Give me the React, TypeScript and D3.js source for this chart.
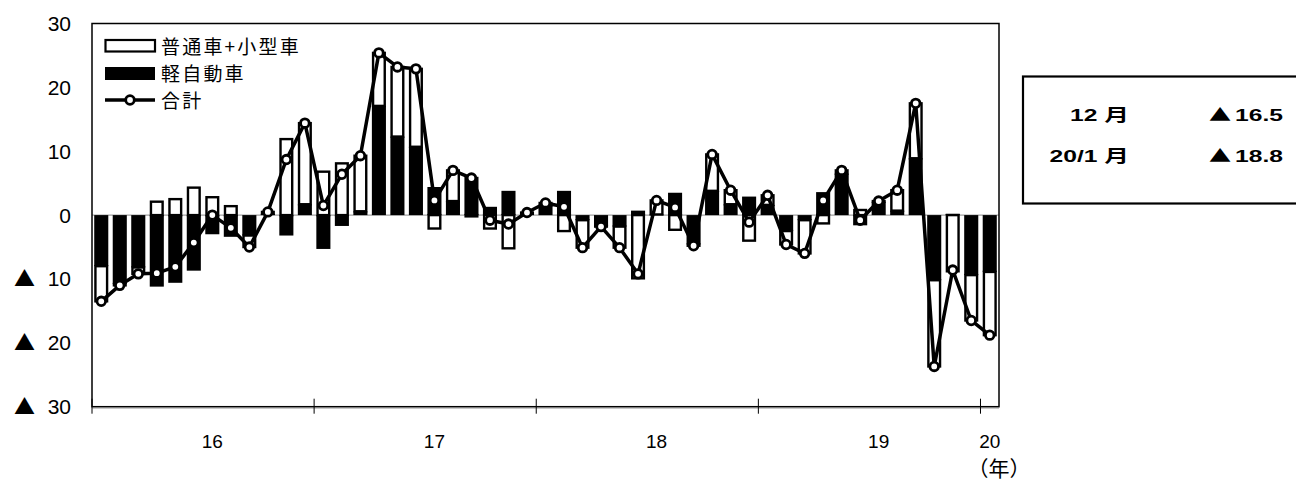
import React from 'react';
import * as d3 from 'd3';

// 2016/01 .. 2020/01, monthly
const months = [
  '16/01', '16/02', '16/03', '16/04', '16/05', '16/06', '16/07', '16/08', '16/09', '16/10', '16/11', '16/12',
  '17/01', '17/02', '17/03', '17/04', '17/05', '17/06', '17/07', '17/08', '17/09', '17/10', '17/11', '17/12',
  '18/01', '18/02', '18/03', '18/04', '18/05', '18/06', '18/07', '18/08', '18/09', '18/10', '18/11', '18/12',
  '19/01', '19/02', '19/03', '19/04', '19/05', '19/06', '19/07', '19/08', '19/09', '19/10', '19/11', '19/12',
  '20/01',
];

// 軽自動車 (black)
const kei = [
  -8.0, -10.8, -8.2, -11.2, -10.6, -8.7, -3.0, -3.4, -3.2, 0.2, -3.2, 1.7,
  -5.3, -1.7, 0.6, 17.1, 12.3, 10.7, 4.4, 2.2, 6.0, 1.3, 3.8, 0.3,
  1.5, 3.8, -0.8, -1.7, -1.8, 0.7, 0.1, 3.5, -4.6, 3.8, 1.7, 2.9,
  1.6, -2.5, -0.8, 3.6, 6.5, -1.6, 2.1, 0.7, 8.9, -10.2, 0.2, -9.4,
  -8.9,
];

// 普通車+小型車 (white)
const futsu = [
  -5.5, -0.2, -1.0, 2.1, 2.5, 4.3, 2.8, 1.4, -1.8, 0.3, 11.9, 12.7,
  6.8, 8.1, 8.7, 8.3, 10.9, 12.2, -2.1, 4.8, -0.2, -2.1, -5.2, 0.1,
  0.4, -2.5, -4.3, -0.1, -3.3, -9.9, 2.2, -2.3, -0.2, 5.7, 2.2, -4.0,
  1.5, -2.1, -5.2, -1.3, 0.5, 0.8, 0.1, 3.2, 8.6, -13.5, -8.8, -7.1,
  -9.9,
];

// 合計
const total = [
  -13.5, -11.0, -9.2, -9.1, -8.1, -4.3, 0.0, -2.0, -5.0, 0.5, 8.7, 14.4,
  1.5, 6.4, 9.3, 25.4, 23.2, 22.9, 2.3, 7.0, 5.8, -0.8, -1.4, 0.4,
  1.9, 1.3, -5.1, -1.8, -5.1, -9.2, 2.3, 1.2, -4.8, 9.5, 3.9, -1.1,
  3.1, -4.6, -6.0, 2.3, 7.0, -0.8, 2.2, 3.9, 17.5, -23.7, -8.6, -16.5,
  -18.8,
];

const yTicks = [30, 20, 10, 0, -10, -20, -30];
const yearTicks = ['16/01', '17/01', '18/01', '19/01', '20/01'];
const yearLabels = [
  { at: '16/07', text: '16' },
  { at: '17/07', text: '17' },
  { at: '18/07', text: '18' },
  { at: '19/07', text: '19' },
  { at: '20/01', text: '20' },
];
const sideRows = [
  { month: '12 月', value: '16.5' },
  { month: '20/1 月', value: '18.8' },
];

const W = 1296;
const H = 487;
const m = { left: 92, right: 999, top: 23.5, bottom: 406.7 };
const numFont = '"Liberation Sans", "Noto Sans CJK JP", sans-serif';
const cjkFont = '"Noto Sans CJK JP", sans-serif';

export default function App() {
  const x = d3.scaleBand<string>().domain(months).range([m.left, m.right]).paddingInner(0.24).paddingOuter(0.12);
  const y = d3.scaleLinear().domain([-30, 30]).range([m.bottom, m.top]);
  const step = x.step();
  const tickX = (k: string) => (x(k) as number) - step * 0.12;
  const cx = (i: number) => (x(months[i]) as number) + x.bandwidth() / 2;

  const rows = months.map((k, i) => ({ k, kei: kei[i], futsu: futsu[i] }));
  const stacked = d3.stack<any>().keys(['kei', 'futsu']).offset(d3.stackOffsetDiverging)(rows);

  const line = d3.line<number>().x((_, i) => cx(i)).y(d => y(d));

  return (
    <svg width={W} height={H} style={{ position: 'absolute', left: 0, top: 0, background: '#fff' }}>
      {/* zero line */}
      <line x1={m.left} x2={m.right} y1={y(0)} y2={y(0)} stroke="#888" strokeWidth={1} />

      {/* stacked bars */}
      {stacked.map(s => (
        <g key={s.key}>
          {s.map((d, i) => {
            const y0 = y(d[0]);
            const y1 = y(d[1]);
            const top = Math.min(y0, y1);
            const h = Math.abs(y1 - y0);
            if (h < 0.01) return null;
            return s.key === 'kei' ? (
              <rect key={i} x={x(months[i])} y={top} width={x.bandwidth()} height={h} fill="#000" />
            ) : (
              <rect key={i} x={(x(months[i]) as number) + 1.2} y={top} width={x.bandwidth() - 2.4} height={h}
                fill="#fff" stroke="#000" strokeWidth={2.4} />
            );
          })}
        </g>
      ))}

      {/* total line */}
      <path d={line(total) || ''} fill="none" stroke="#000" strokeWidth={3.5} strokeLinejoin="round" />
      {total.map((v, i) => (
        <circle key={i} cx={cx(i)} cy={y(v)} r={4.3} fill="#fff" stroke="#000" strokeWidth={2.8} />
      ))}

      {/* frame */}
      <rect x={m.left} y={m.top} width={m.right - m.left} height={m.bottom - m.top}
        fill="none" stroke="#000" strokeWidth={1.5} />
      <line x1={m.left} x2={m.right} y1={m.bottom + 1.2} y2={m.bottom + 1.2} stroke="#777" strokeWidth={1} />

      {/* x ticks */}
      {yearTicks.map(k => (
        <line key={k} x1={tickX(k)} x2={tickX(k)} y1={m.bottom - 8} y2={m.bottom + 7} stroke="#000" strokeWidth={1} />
      ))}
      {yearLabels.map(l => (
        <text key={l.text} x={(x(l.at) as number) + x.bandwidth() / 2} y={448} textAnchor="middle"
          fontFamily={numFont} fontSize={19}>{l.text}</text>
      ))}
      <text x={999} y={476} textAnchor="middle" fontFamily={cjkFont} fontSize={21}>（年）</text>

      {/* y labels */}
      {yTicks.map(v => (
        <g key={v}>
          {v < 0 ? (
            <text x={14} y={y(v) + 7.5} fontFamily={cjkFont} fontSize={21}>▲</text>
          ) : null}
          <text x={71} y={y(v) + 7.5} textAnchor="end" fontFamily={numFont} fontSize={21}>{Math.abs(v)}</text>
        </g>
      ))}

      {/* legend */}
      <rect x={105.5} y={40} width={49.5} height={11.5} fill="#fff" stroke="#000" strokeWidth={2.2} />
      <text x={161} y={54} fontFamily={cjkFont} fontSize={19} letterSpacing={2.2}>普通車+小型車</text>
      <rect x={105} y={67} width={50} height={13} fill="#000" />
      <text x={161} y={81} fontFamily={cjkFont} fontSize={19} letterSpacing={2.2}>軽自動車</text>
      <line x1={105} x2={155} y1={100} y2={100} stroke="#000" strokeWidth={3.5} />
      <circle cx={130} cy={100} r={4.3} fill="#fff" stroke="#000" strokeWidth={2.8} />
      <text x={161} y={108} fontFamily={cjkFont} fontSize={19} letterSpacing={2.2}>合計</text>

      {/* side box */}
      <rect x={1023} y={76.5} width={290} height={127} fill="#fff" stroke="#000" strokeWidth={2.2} />
      {sideRows.map((r, i) => {
        const by = 120.5 + i * 41.5;
        return (
          <g key={r.month} fontFamily={numFont} fontSize={17} fontWeight="bold">
            <text transform={`translate(1129,${by}) scale(1.45,1)`} textAnchor="end">{r.month}</text>
            <text transform={`translate(1209,${by}) scale(1.3,1)`} fontFamily={cjkFont} fontSize={17}>▲</text>
            <text transform={`translate(1283,${by}) scale(1.45,1)`} textAnchor="end">{r.value}</text>
          </g>
        );
      })}
    </svg>
  );
}
